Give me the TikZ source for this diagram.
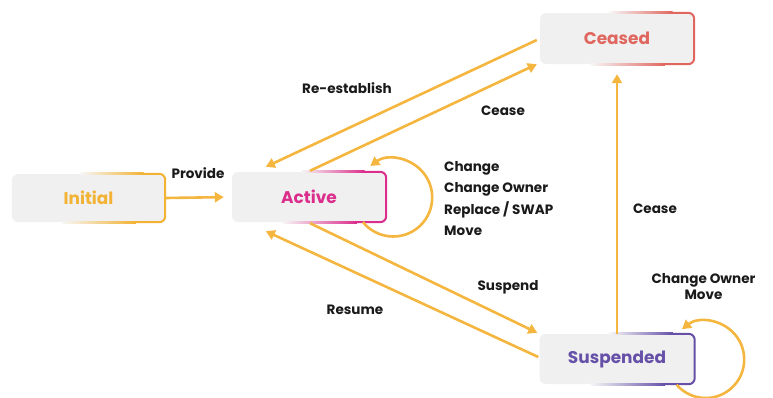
\documentclass[tikz,border=0pt]{standalone}
\usepackage{fontspec}
\setmainfont{Poppins}
\usetikzlibrary{arrows.meta,calc}
\definecolor{arrowc}{HTML}{F4B63F}
\definecolor{boxfill}{HTML}{F0F0F0}
\definecolor{fadeend}{HTML}{F6F6F6}
\definecolor{initc}{HTML}{F2B233}
\definecolor{activec}{HTML}{DB2E8C}
\definecolor{ceasedc}{HTML}{E0675F}
\definecolor{suspc}{HTML}{6650A8}
\definecolor{txt}{HTML}{1A1A1A}
\tikzset{
  state/.style={fill=boxfill, rounded corners=6bp, minimum width=154bp, minimum height=50bp,
    inner sep=0pt, font=\fontsize{17}{19}\selectfont\bfseries},
  sborder/.style={line width=2bp, rounded corners=6bp},
  lbl/.style={text=txt, font=\fontsize{13.6}{15}\selectfont\bfseries, inner sep=0pt},
  arr/.style={draw=arrowc, line width=2.6bp, -{Triangle[length=9bp,width=10bp]}},
}
\newcommand\stateborder[2]{%
  \shade[left color=fadeend, right color=#2]
    ($(#1.north west)!0.45!(#1.north east)+(0,-1)$) rectangle ($(#1.north west)!0.86!(#1.north east)+(0,1)$);
  \shade[left color=fadeend, right color=#2]
    ($(#1.south west)!0.33!(#1.south east)+(0,-1)$) rectangle ($(#1.south west)!0.81!(#1.south east)+(0,1)$);
  \draw[sborder, draw=#2]
    ($(#1.north west)!0.85!(#1.north east)$) -- (#1.north east) -- (#1.south east)
    -- ($(#1.south west)!0.8!(#1.south east)$);
}
\begin{document}
\begin{tikzpicture}[x=1bp,y=-1bp]
\useasboundingbox (0,0) rectangle (773,397);
% states
\node[state, text=initc, minimum width=153bp, minimum height=48bp] (initial) at (88.5,198) {Initial};
\node[state, text=activec] (active) at (309,197) {Active};
\node[state, text=ceasedc, minimum height=51bp] (ceased) at (617,38.5) {Ceased};
\node[state, text=suspc, minimum width=155bp] (suspended) at (617,359) {Suspended};
\stateborder{initial}{initc}
\stateborder{active}{activec}
\stateborder{ceased}{ceasedc}
\stateborder{suspended}{suspc}
% transitions
\draw[arr, shorten >=8bp] (initial.east) -- (active.west);
\draw[arr] ($(ceased.west)+(-3,1.5)$) -- ($(active.north west)+(34,-5)$);
\draw[arr] ($(active.north)+(1,-1)$) -- ($(ceased.south west)+(-3,0)$);
\draw[arr] ($(active.south)+(1,1)$) -- ($(suspended.north west)+(-2,-1)$);
\draw[arr] ($(suspended.west)+(-1,-2)$) -- ($(active.south west)+(34,9)$);
\draw[arr, shorten >=10bp] (suspended.north) -- (ceased.south);
% self loops
\draw[arr] ($(active.east)+(7,0.5)$) ++(141:39) arc[start angle=141, end angle=-126, radius=39];
\draw[arr] ($(suspended.east)+(11,0.5)$) ++(139:38.5) arc[start angle=139, end angle=-128, radius=38.5];
% labels
\node[lbl] (lprovide) at (198,173) {Provide};
\node[lbl] (lreest) at (347,88) {Re-establish};
\node[lbl] (lcease1) at (503,111) {Cease};
\node[lbl, anchor=west, align=left, font=\fontsize{13.6}{21.5}\selectfont\bfseries] (lchange) at (444,198.5)
  {Change\\Change Owner\\Replace / SWAP\\Move};
\node[lbl] (lcease2) at (655,209) {Cease};
\node[lbl] (lsuspend) at (508,287) {Suspend};
\node[lbl] (lresume) at (355,310) {Resume};
\node[lbl, align=center, font=\fontsize{13.6}{16}\selectfont\bfseries] (lsmove) at (703.5,287) {Change Owner\\Move};
\end{tikzpicture}
\end{document}
